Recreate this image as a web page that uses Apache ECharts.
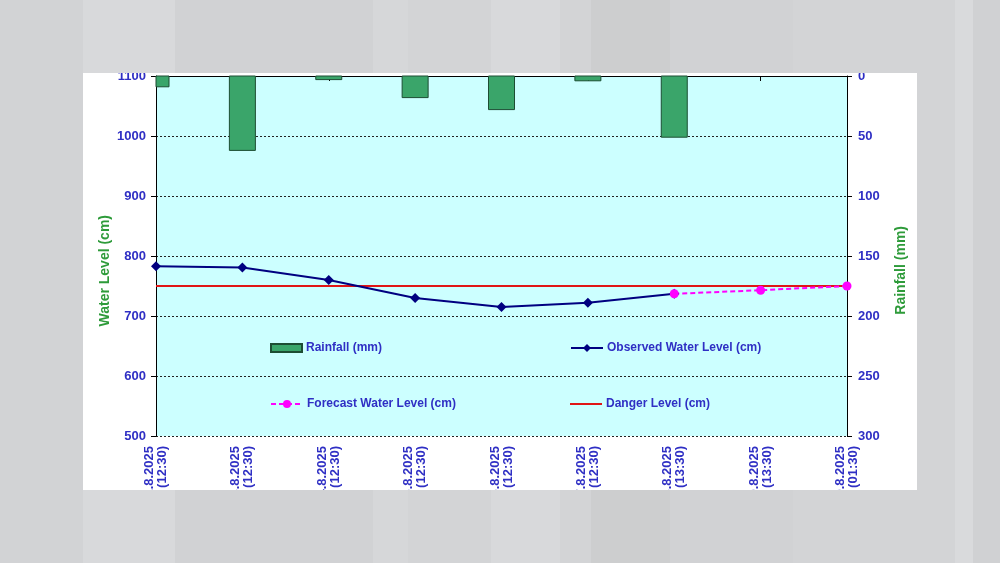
<!DOCTYPE html>
<html>
<head>
<meta charset="utf-8">
<script src="https://cdn.jsdelivr.net/npm/echarts@6/dist/echarts.min.js"></script>
<style>
  html, body { margin: 0; padding: 0; width: 1000px; height: 563px; overflow: hidden; }
  body {
    background: linear-gradient(to right,
      #d2d3d5 0px, #d2d3d5 83px,
      #d8d9db 83px, #d8d9db 175px,
      #d1d2d4 175px, #d1d2d4 373px,
      #d6d7d9 373px, #d6d7d9 408px,
      #d3d4d6 408px, #d3d4d6 491px,
      #d8d9db 491px, #d8d9db 560px,
      #d3d4d6 560px, #d3d4d6 591px,
      #cdcecf 591px, #cdcecf 670px,
      #d1d2d4 670px, #d1d2d4 793px,
      #d3d4d6 793px, #d3d4d6 955px,
      #d9dadc 955px, #d9dadc 973px,
      #d0d1d3 973px, #d0d1d3 1000px);
  }
  #panel { position: absolute; left: 83px; top: 73px; width: 834px; height: 417px; background: #ffffff; overflow: hidden; }
  #chart { position: absolute; left: 0; top: -30px; width: 834px; height: 520px; }
</style>
</head>
<body>
<div id="panel"><div id="chart"></div></div>
<script>
const categories = [
  "12.8.2025\n(12:30)", "13.8.2025\n(12:30)", "14.8.2025\n(12:30)",
  "15.8.2025\n(12:30)", "16.8.2025\n(12:30)", "17.8.2025\n(12:30)",
  "18.8.2025\n(13:30)", "19.8.2025\n(13:30)", "20.8.2025\n(01:30)"
];
const rainfall = [9, 62, 3, 18, 28, 4, 51, 0, 0];
const observed = [783, 781, 760, 730, 715, 722, 737, null, null];
const forecast = [null, null, null, null, null, null, 737, 743, 750];
const danger = [750, 750, 750, 750, 750, 750, 750, 750, 750];
const waterTicks = { min: 500, max: 1100, interval: 100 };
const rainTicks = { min: 0, max: 300, interval: 50 };

const blue = '#2f2fc4';
const green = '#2e9b3a';
const barFill = '#3aa56a';
const barStroke = '#1d4d33';
const font = 'Liberation Sans, Arial, sans-serif';
const chart = echarts.init(document.getElementById('chart'), null, { renderer: 'canvas' });

const legendBase = {
  padding: 0, itemGap: 0,
  textStyle: { color: blue, fontWeight: 'bold', fontSize: 12, fontFamily: font, padding: [0, 0, 0, -1] },
  selectedMode: false
};

const rainData = rainfall.map((v, i) => [i, v]);

chart.setOption({
  animation: false,
  textStyle: { fontFamily: font },
  grid: { left: 73, right: 70, top: 33, bottom: 127, show: true, backgroundColor: '#ccffff', borderWidth: 0 },
  legend: [
    Object.assign({}, legendBase, { left: 187, top: 299, itemWidth: 31, itemHeight: 8, data: [{ name: 'Rainfall (mm)', icon: 'rect' }] }),
    Object.assign({}, legendBase, { left: 487, top: 299, itemWidth: 32, itemHeight: 10, data: ['Observed Water Level (cm)'] }),
    Object.assign({}, legendBase, { left: 187, top: 355, itemWidth: 32, itemHeight: 10, data: ['Forecast Water Level (cm)'] }),
    Object.assign({}, legendBase, { left: 487, top: 355, itemWidth: 32, itemHeight: 2, data: [{ name: 'Danger Level (cm)', icon: 'rect' }] })
  ],
  xAxis: {
    type: 'category', data: categories, boundaryGap: false,
    axisLine: { lineStyle: { color: '#000', width: 1 } },
    axisTick: { show: true, length: 5, lineStyle: { color: '#000' } },
    axisLabel: { rotate: 90, margin: 10, color: blue, fontWeight: 'bold', fontSize: 13, lineHeight: 13, fontFamily: font, interval: 0 },
    splitLine: { show: false }
  },
  yAxis: [
    {
      type: 'value', min: waterTicks.min, max: waterTicks.max, interval: waterTicks.interval, position: 'left',
      axisLine: { show: true, lineStyle: { color: '#000', width: 1 } },
      axisTick: { show: true, length: 5, lineStyle: { color: '#000' } },
      axisLabel: { color: blue, fontWeight: 'bold', fontSize: 13, margin: 10, fontFamily: font, formatter: v => String(v) },
      splitLine: { show: true, lineStyle: { color: '#222', width: 1, type: [2, 2] } }
    },
    {
      type: 'value', min: rainTicks.min, max: rainTicks.max, interval: rainTicks.interval, inverse: true, position: 'right',
      axisLine: { show: true, lineStyle: { color: '#000', width: 1 } },
      axisTick: { show: true, length: 5, lineStyle: { color: '#000' } },
      axisLabel: { color: blue, fontWeight: 'bold', fontSize: 13, margin: 11, fontFamily: font, formatter: v => String(v) },
      splitLine: { show: false }
    }
  ],
  graphic: [
    { type: 'text', left: 15, top: 172, rotation: Math.PI / 2,
      style: { text: 'Water Level (cm)', fill: green, font: 'bold 14px ' + font } },
    { type: 'text', left: 811, top: 183, rotation: Math.PI / 2,
      style: { text: 'Rainfall (mm)', fill: green, font: 'bold 14px ' + font } }
  ],
  series: [
    {
      name: 'Rainfall (mm)', type: 'custom', yAxisIndex: 1, data: rainData,
      encode: { x: 0, y: 1 },
      itemStyle: { color: barFill, borderColor: barStroke, borderWidth: 1 },
      renderItem: function (params, api) {
        const v = api.value(1);
        if (!v) return null;
        const p0 = api.coord([api.value(0), 0]);
        const p1 = api.coord([api.value(0), v]);
        const cs = params.coordSys;
        const shape = echarts.graphic.clipRectByRect(
          { x: p0[0] - 13, y: p0[1], width: 26, height: p1[1] - p0[1] },
          { x: cs.x, y: cs.y, width: cs.width, height: cs.height }
        );
        if (!shape) return null;
        return { type: 'rect', shape: shape, style: { fill: barFill, stroke: barStroke, lineWidth: 1 } };
      }
    },
    {
      name: 'Danger Level (cm)', type: 'line', data: danger, symbol: 'none',
      lineStyle: { color: '#e01515', width: 2 }, itemStyle: { color: '#e01515' }
    },
    {
      name: 'Observed Water Level (cm)', type: 'line', data: observed, symbol: 'diamond', symbolSize: 10,
      lineStyle: { color: '#000080', width: 2 }, itemStyle: { color: '#000080' }
    },
    {
      name: 'Forecast Water Level (cm)', type: 'line', data: forecast, symbol: 'circle', symbolSize: 9,
      lineStyle: { color: '#ff00ff', width: 2, type: [5, 3] }, itemStyle: { color: '#ff00ff' }
    }
  ]
});
</script>
</body>
</html>
